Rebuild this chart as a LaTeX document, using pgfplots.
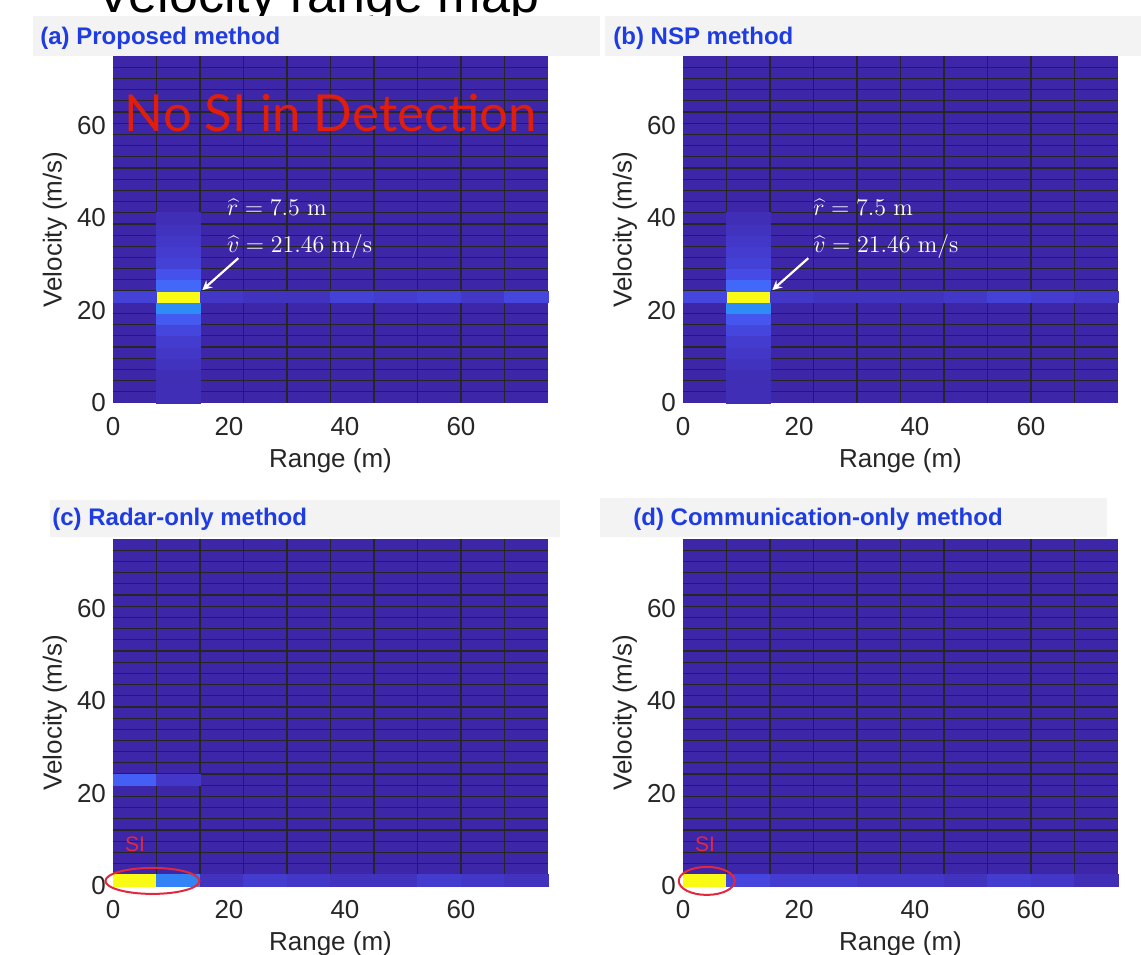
\documentclass[border=0pt]{standalone}
\usepackage[no-math]{fontspec}
\setmainfont{Liberation Sans}
\newfontfamily\notefont{Lato}
\usepackage{pgfplots}
\pgfplotsset{compat=1.18}

\definecolor{txt}{RGB}{38,38,38}
\definecolor{hdr}{RGB}{243,243,243}
\definecolor{ttl}{RGB}{30,60,225}
\definecolor{redtxt}{RGB}{225,30,10}
\definecolor{sired}{RGB}{225,40,60}
\definecolor{pbase}{RGB}{62,38,168}

\pgfplotsset{
  hm/.style={
    scale only axis, width=217.5pt, height=173.5pt,
    xmin=0, xmax=75, ymin=0, ymax=75,
    xtick={0,20,40,60}, ytick={0,20,40,60},
    minor xtick={7.5,15,22.5,30,37.5,45,52.5,60,67.5},
    minor ytick={2.419,4.839,7.258,9.677,12.097,14.516,16.935,19.355,21.774,24.194,26.613,29.032,31.452,33.871,36.290,38.710,41.129,43.548,45.968,48.387,50.806,53.226,55.645,58.065,60.484,62.903,65.323,67.742,70.161,72.581},
    xminorgrids, yminorgrids,
    minor grid style={black!85, line width=0.6pt},
    major tick length=0pt, minor tick length=0pt,
    axis line style={draw=none},
    axis on top,
    axis background/.style={fill=pbase},
    tick label style={font=\fontsize{13}{15}\selectfont, text=txt},
    xticklabel shift=3.5pt,
    /pgf/number format/assume math mode=true,
    xlabel={Range (m)}, ylabel={Velocity (m/s)},
    label style={font=\fontsize{13}{15}\selectfont, text=txt},
    xlabel style={at={(axis description cs:0.5,0)}, anchor=center, yshift=-29pt},
    ylabel style={at={(axis description cs:0,0.5)}, anchor=center, yshift=29pt},
    colormap={par}{rgb255(0cm)=(62,38,168); rgb255(4cm)=(66,55,198);
      rgb255(8cm)=(70,75,230); rgb255(13cm)=(68,100,248); rgb255(22cm)=(45,140,245);
      rgb255(35cm)=(25,175,210); rgb255(55cm)=(60,190,150); rgb255(75cm)=(170,190,90);
      rgb255(90cm)=(250,190,55); rgb255(100cm)=(249,251,21)},
    point meta min=0, point meta max=1,
  },
  cells/.style={scatter, only marks, mark=square*, mark size=1pt,
    point meta=explicit,
    mark options={xscale=10.875, yscale=2.7984},
    scatter/use mapped color={draw=mapped color, fill=mapped color}},
}
\tikzset{note/.style={anchor=west, text=white, font=\fontsize{13}{15}\selectfont, inner sep=0pt}}

\begin{document}
\begin{tikzpicture}
\useasboundingbox (0,0) rectangle (570.5pt,477pt);

% slide title, cut by the page edge
\node[anchor=base, font=\fontsize{26}{30}\selectfont, text=black] at (159pt,470.5pt) {Velocity range map};

% header bands
\fill[hdr] (16.5pt,449pt) rectangle (300pt,469pt);
\fill[hdr] (302.5pt,449pt) rectangle (570.5pt,469pt);
\fill[hdr] (25pt,208.5pt) rectangle (280pt,227pt);
\fill[hdr] (300pt,208.5pt) rectangle (553.5pt,228pt);
\begin{scope}[every node/.style={anchor=west, inner sep=0pt, text=ttl, font=\bfseries\fontsize{12}{14}\selectfont}]
\node at (20pt,458pt) {(a) Proposed method};
\node at (306.5pt,458pt) {(b) NSP method};
\node at (26pt,217.5pt) {(c) Radar-only method};
\node at (316.5pt,217.5pt) {(d) Communication-only method};
\end{scope}

% (a) Proposed method
\begin{axis}[hm, at={(56.5pt,275.5pt)}, anchor=south west]
\addplot[cells] table[meta=c] {
x y c
11.25 1.210 0.02
11.25 3.629 0.02
11.25 6.048 0.02
11.25 8.468 0.03
11.25 10.887 0.04
11.25 13.306 0.05
11.25 15.726 0.07
11.25 18.145 0.11
11.25 20.565 0.22
11.25 22.984 1.00
11.25 25.403 0.14
11.25 27.823 0.09
11.25 30.242 0.06
11.25 32.661 0.05
11.25 35.081 0.04
11.25 37.500 0.03
11.25 39.919 0.02
3.75 22.984 0.06
18.75 22.984 0.04
26.25 22.984 0.03
33.75 22.984 0.03
41.25 22.984 0.06
48.75 22.984 0.05
56.25 22.984 0.06
63.75 22.984 0.04
71.25 22.984 0.07
};
\coordinate (a1) at (axis cs:19.6,42.3);
\coordinate (a2) at (axis cs:19.6,33.8);
\coordinate (as) at (axis cs:21.6,31.3);
\coordinate (ae) at (axis cs:15.4,24.4);
\end{axis}
\node[anchor=base, text=redtxt, font=\notefont\fontsize{25.5}{28}\selectfont] at (165.5pt,411pt) {No SI in Detection};
\node[note] at (a1) {$\widehat{r} = 7.5~\mathrm{m}$};
\node[note] at (a2) {$\widehat{v} = 21.46~\mathrm{m/s}$};
\draw[white, line width=1.1pt, -stealth] (as) -- (ae);

% (b) NSP method
\begin{axis}[hm, at={(341.5pt,275.5pt)}, anchor=south west]
\addplot[cells] table[meta=c] {
x y c
11.25 1.210 0.02
11.25 3.629 0.02
11.25 6.048 0.02
11.25 8.468 0.03
11.25 10.887 0.04
11.25 13.306 0.05
11.25 15.726 0.07
11.25 18.145 0.10
11.25 20.565 0.22
11.25 22.984 1.00
11.25 25.403 0.14
11.25 27.823 0.08
11.25 30.242 0.06
11.25 32.661 0.05
11.25 35.081 0.04
11.25 37.500 0.03
11.25 39.919 0.02
3.75 22.984 0.07
18.75 22.984 0.04
26.25 22.984 0.03
33.75 22.984 0.03
41.25 22.984 0.03
48.75 22.984 0.04
56.25 22.984 0.06
63.75 22.984 0.05
71.25 22.984 0.04
};
\coordinate (b1) at (axis cs:22.4,42.3);
\coordinate (b2) at (axis cs:22.4,33.8);
\coordinate (bs) at (axis cs:21.6,31.3);
\coordinate (be) at (axis cs:15.4,24.4);
\end{axis}
\node[note] at (b1) {$\widehat{r} = 7.5~\mathrm{m}$};
\node[note] at (b2) {$\widehat{v} = 21.46~\mathrm{m/s}$};
\draw[white, line width=1.1pt, -stealth] (bs) -- (be);

% (c) Radar-only method
\begin{axis}[hm, at={(56.5pt,34pt)}, anchor=south west]
\addplot[cells] table[meta=c] {
x y c
3.75 1.210 1.00
11.25 1.210 0.20
18.75 1.210 0.03
26.25 1.210 0.05
33.75 1.210 0.04
41.25 1.210 0.03
48.75 1.210 0.03
56.25 1.210 0.05
63.75 1.210 0.04
71.25 1.210 0.03
3.75 22.984 0.12
11.25 22.984 0.04
};
\coordinate (csi) at (axis cs:3.8,9.1);
\coordinate (cel) at (axis cs:6.8,1.1);
\end{axis}
\node[text=sired, font=\fontsize{10.5}{12}\selectfont] at (csi) {SI};
\draw[sired, line width=1pt] (cel) ellipse [x radius=23.5pt, y radius=6.5pt];

% (d) Communication-only method
\begin{axis}[hm, at={(341.5pt,34pt)}, anchor=south west]
\addplot[cells] table[meta=c] {
x y c
3.75 1.210 1.00
11.25 1.210 0.07
18.75 1.210 0.05
26.25 1.210 0.05
33.75 1.210 0.04
41.25 1.210 0.04
48.75 1.210 0.03
56.25 1.210 0.05
63.75 1.210 0.04
71.25 1.210 0.02
};
\coordinate (dsi) at (axis cs:3.8,9.1);
\coordinate (del) at (axis cs:4.1,1.1);
\end{axis}
\node[text=sired, font=\fontsize{10.5}{12}\selectfont] at (dsi) {SI};
\draw[sired, line width=1pt] (del) ellipse [x radius=14pt, y radius=7pt];
\end{tikzpicture}
\end{document}
